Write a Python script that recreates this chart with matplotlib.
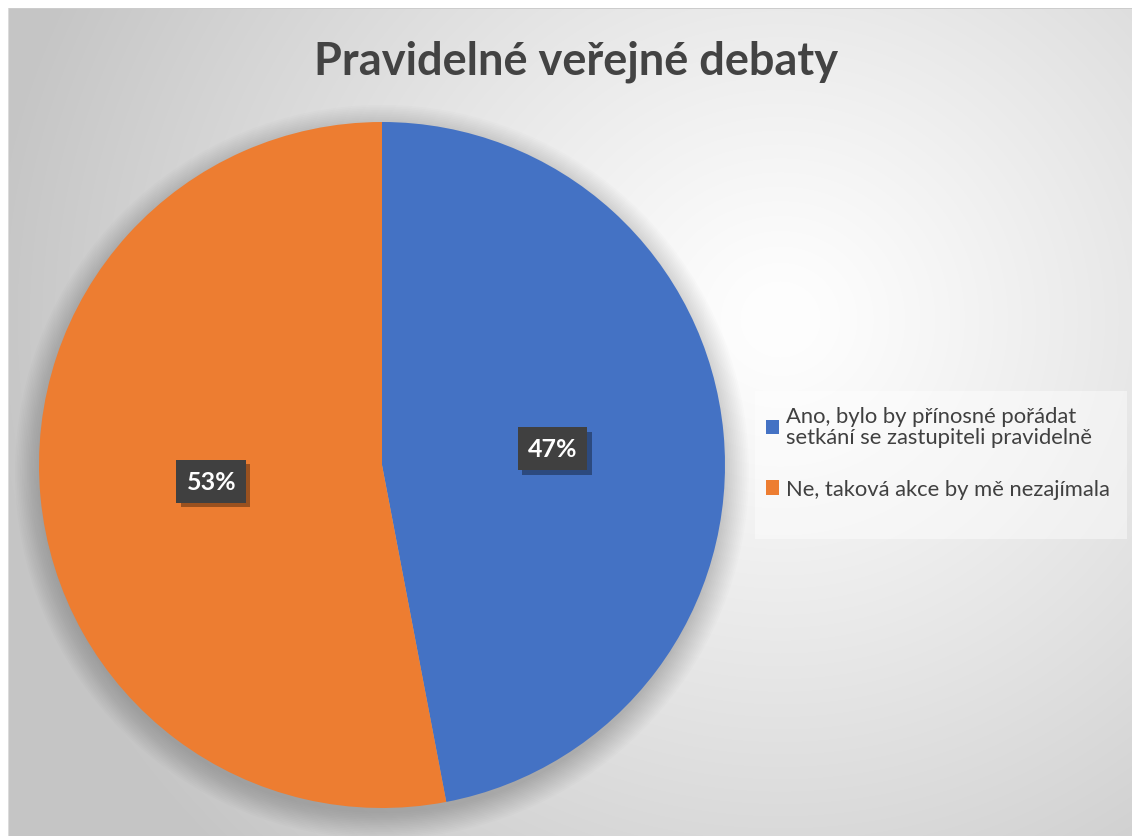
import numpy as np
import matplotlib
matplotlib.use("Agg")
import matplotlib.pyplot as plt
from matplotlib.patches import Rectangle, Circle
import matplotlib.patheffects as pe

# Survey answers (percent)
categories = ["Ano, bylo by přínosné pořádat\nsetkání se zastupiteli pravidelně",
              "Ne, taková akce by mě nezajímala"]
shares = [47, 53]
colors = ["#4472C4", "#ED7D31"]
title = "Pravidelné veřejné debaty"

W, H = 1132, 837
fig = plt.figure(figsize=(W / 100, H / 100), dpi=100)
fig.patch.set_facecolor("white")

# Radial grey background of the chart area
bg = fig.add_axes([0, 0, 1, 1])
bg.set_axis_off()
yy, xx = np.mgrid[0:H, 0:W]
d = np.hypot(xx - 780, (yy - 320) / 0.95)
t = np.clip((d - 40) / 760, 0, 1) ** 1.1
g = 253 - 56 * t
img = np.dstack([g, g, g]) / 255.0
img[:9, :, :] = 1.0
img[:, :8, :] = 1.0
img[9, 8:, :] = 0.80
img[9:, 8, :] = 0.86
bg.imshow(img, extent=[0, W, H, 0], interpolation="bilinear", aspect="auto")
bg.set_xlim(0, W)
bg.set_ylim(H, 0)

# Pie axes: centre (382, 466) px, radius 343 px
cx, cy, r = 382, 466, 343
ax = fig.add_axes([(cx - r) / W, (H - cy - r) / H, 2 * r / W, 2 * r / H])
ax.set_axis_off()

# soft shadow around the pie
for k in range(16):
    ax.add_patch(Circle((0.0, -0.02), 0.995 + 0.005 * k, color="black",
                        alpha=0.011, lw=0, zorder=0, clip_on=False))

wedges, texts, autotexts = ax.pie(
    shares, colors=colors, startangle=90, counterclock=False,
    autopct="%1.0f%%", pctdistance=0.5, radius=1.0,
    wedgeprops=dict(linewidth=0),
    textprops=dict(color="white", fontsize=18, fontweight="bold",
                   family="Lato"))
ax.set_xlim(-1.0, 1.0)
ax.set_ylim(-1.0, 1.0)
ax.set_aspect("equal")

for at in autotexts:
    at.set_ha("center")
    at.set_va("center")
    at.set_zorder(5)
    at.set_bbox(dict(boxstyle="square,pad=0.4", fc="#404040", ec="none"))
    at.get_bbox_patch().set_path_effects(
        [pe.SimplePatchShadow(offset=(3, -3), shadow_rgbFace="black", alpha=0.35),
         pe.Normal()])

# Title
fig.text(576 / W, 1 - 62 / H, title, ha="center", va="center",
         fontsize=32.5, fontweight="bold", color="#434343", family="Lato")

# Legend panel
fig.patches.append(Rectangle((755 / W, 1 - 540 / H), 372 / W, 148 / H,
                             transform=fig.transFigure, fc="white", alpha=0.45,
                             ec="none", zorder=1))
leg = fig.legend(wedges, categories, loc="upper left",
                 bbox_to_anchor=(746 / W, 1 - 387 / H), frameon=False,
                 prop=dict(family="Lato", size=15.8),
                 handlelength=0.62, handleheight=0.62, handletextpad=0.32,
                 labelspacing=1.45, labelcolor="#404040")
for h in leg.legend_handles:
    h.set_linewidth(0)
for tx in leg.get_texts():
    tx.set_linespacing(1.1)

fig.savefig("out.png", dpi=100)
